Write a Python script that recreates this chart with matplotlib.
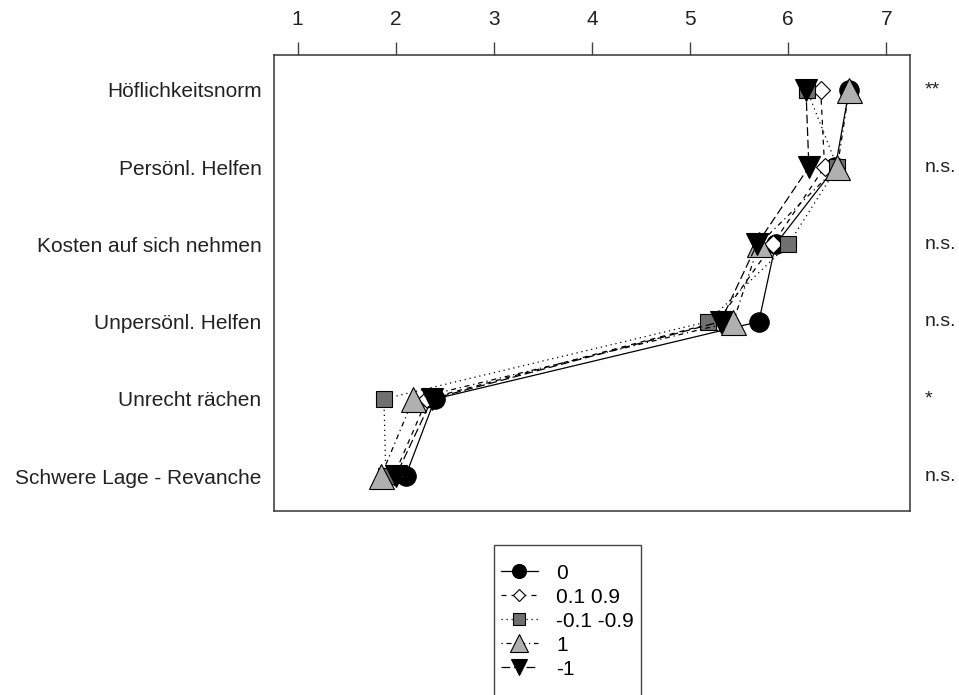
import numpy as np
import matplotlib.pyplot as plt
from matplotlib.lines import Line2D

plt.rcParams['font.family'] = ['Liberation Sans', 'DejaVu Sans']

items = ['Höflichkeitsnorm', 'Persönl. Helfen', 'Kosten auf sich nehmen',
         'Unpersönl. Helfen', 'Unrecht rächen', 'Schwere Lage - Revanche']
signif = ['**', 'n.s.', 'n.s.', 'n.s.', '*', 'n.s.']

groups = ['0', '0.1 0.9', '-0.1 -0.9', '1', '-1']
vals_0 = [6.62, 6.48, 5.87, 5.70, 2.40, 2.10]
vals_01 = [6.33, 6.37, 5.84, 5.28, 2.32, 1.98]
vals_m01 = [6.19, 6.50, 6.00, 5.18, 1.88, 1.90]
vals_1 = [6.62, 6.50, 5.70, 5.44, 2.18, 1.85]
vals_m1 = [6.18, 6.21, 5.68, 5.31, 2.37, 2.00]

# style per group (marker, fill, line style, size)
styles = [
    ('o', 'black', '-', 14),
    ('D', 'white', (0, (4, 4)), 9),
    ('s', '#707070', (0, (1, 3)), 12),
    ('^', '#b0b0b0', (0, (1, 3, 4, 3)), 18),
    ('v', 'black', (0, (7, 3)), 16),
]
all_vals = [vals_0, vals_01, vals_m01, vals_1, vals_m1]

ypos = np.arange(len(items), 0, -1)

fig = plt.figure(figsize=(9.59, 6.95), dpi=100)
ax = fig.add_axes([0.2857, 0.2647, 0.6632, 0.6562])

handles = []
for g, v, (mk, fc, ls, ms) in zip(groups, all_vals, styles):
    ax.plot(v, ypos, linestyle=ls, color='black', lw=0.9,
            marker=mk, markersize=ms, markerfacecolor=fc,
            markeredgecolor='black', markeredgewidth=0.8)
    h = Line2D([], [], linestyle=ls, color='black', lw=0.9,
               marker=mk, markersize=ms * 0.72, markerfacecolor=fc,
               markeredgecolor='black', markeredgewidth=0.8, label=g)
    handles.append(h)
# blank row so the box runs off the bottom like the original
handles.append(Line2D([], [], linestyle='none', label=' '))

ax.set_xlim(0.76, 7.24)
ax.set_ylim(0.55, 6.45)
ax.set_xticks(range(1, 8))
ax.xaxis.tick_top()
ax.tick_params(axis='x', direction='out', length=9.5, width=1, color='#444444',
               pad=9, labelsize=15, labelcolor='#222222')
ax.set_yticks(ypos)
ax.set_yticklabels(items)
ax.tick_params(axis='y', length=0, pad=9, labelsize=15, labelcolor='#222222')
for s in ax.spines.values():
    s.set_color('#444444')
    s.set_linewidth(1.2)

for y, s in zip(ypos, signif):
    ax.text(1.0236, y, s, transform=ax.get_yaxis_transform(),
            ha='left', va='center', fontsize=14, color='#222222')

leg = fig.legend(handles=handles, loc='upper left',
                 bbox_to_anchor=(0.515, 0.2158), fontsize=15,
                 title=' ', title_fontsize=5,
                 frameon=True, fancybox=False, framealpha=1,
                 edgecolor='#444444', handlelength=1.75, handletextpad=0.9,
                 handleheight=1.13, labelspacing=0.13, borderpad=0.35,
                 borderaxespad=0)
leg.get_frame().set_linewidth(1.0)

fig.savefig('out.png', dpi=100)
